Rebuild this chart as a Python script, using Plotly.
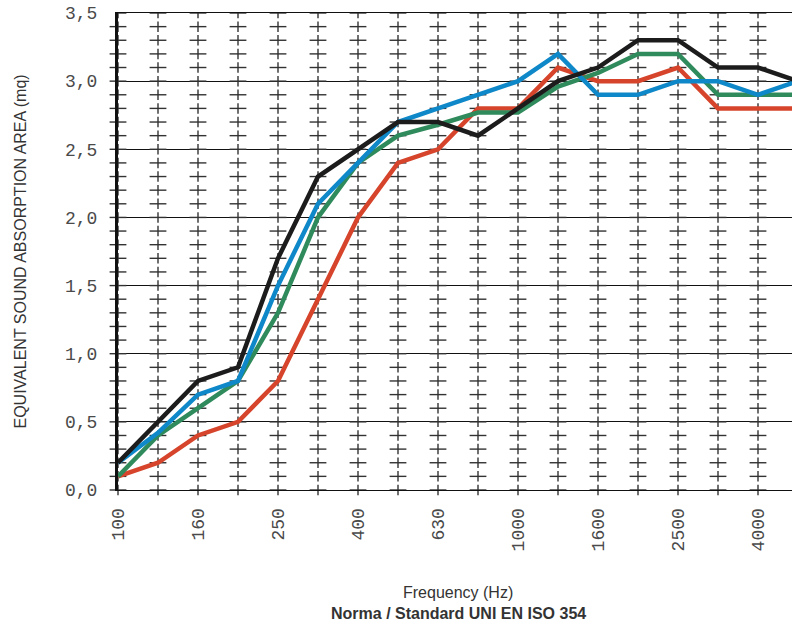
import plotly.graph_objects as go

frequencies = ["100", "125", "160", "200", "250", "315", "400", "500", "630",
               "800", "1000", "1250", "1600", "2000", "2500", "3150", "4000", "5000"]
tick_labels = ["100", "160", "250", "400", "630", "1000", "1600", "2500", "4000"]
y_ticks = [0.0, 0.5, 1.0, 1.5, 2.0, 2.5, 3.0, 3.5]

black_values = [0.2, 0.5, 0.8, 0.9, 1.7, 2.3, 2.5, 2.7, 2.7, 2.6, 2.8, 3.0, 3.1, 3.3, 3.3, 3.1, 3.1, 3.0]
blue_values = [0.2, 0.42, 0.7, 0.8, 1.5, 2.1, 2.4, 2.7, 2.8, 2.9, 3.0, 3.2, 2.9, 2.9, 3.0, 3.0, 2.9, 3.0]
green_values = [0.1, 0.4, 0.6, 0.8, 1.3, 2.0, 2.4, 2.6, 2.68, 2.77, 2.77, 2.96, 3.06, 3.2, 3.2, 2.9, 2.9, 2.9]
red_values = [0.1, 0.2, 0.4, 0.5, 0.8, 1.4, 2.0, 2.4, 2.5, 2.8, 2.8, 3.1, 3.0, 3.0, 3.1, 2.8, 2.8, 2.8]

fig = go.Figure()

# cross grid markers at each category and each 0.1 step
grid_steps = [round(k * 0.1, 1) for k in range(36)]
gx_in, gy_in, gx_top, gy_top = [], [], [], []
for f in frequencies:
    for s in grid_steps:
        if s >= 3.5:
            gx_top.append(f); gy_top.append(s)
        else:
            gx_in.append(f); gy_in.append(s)

for gx, gy, clip in [(gx_in, gy_in, False), (gx_top, gy_top, True)]:
    fig.add_trace(go.Scatter(x=gx, y=gy, mode="markers", cliponaxis=clip, hoverinfo="skip",
                             marker=dict(symbol="line-ew", size=12, line=dict(color="#333333", width=1.4))))
    fig.add_trace(go.Scatter(x=gx, y=gy, mode="markers", cliponaxis=clip, hoverinfo="skip",
                             marker=dict(symbol="line-ns", size=7.5, line=dict(color="#333333", width=1.4))))

line_series = [
    (red_values, "#d6442c"),
    (green_values, "#2f8a5c"),
    (blue_values, "#0e88c8"),
    (black_values, "#1c1c1c"),
]
for vals, col in line_series:
    fig.add_trace(go.Scatter(x=frequencies, y=vals, mode="lines",
                             line=dict(color=col, width=4.5)))

mono = "Liberation Mono, Courier New, monospace"
sans = "Liberation Sans, Arial, sans-serif"

fig.update_layout(
    width=792, height=629,
    margin=dict(l=118, r=0, t=13, b=139),
    paper_bgcolor="white", plot_bgcolor="white",
    showlegend=False,
    separators=",.",
    xaxis=dict(
        type="category", categoryorder="array", categoryarray=frequencies,
        range=[0, 16.85], automargin=False,
        tickmode="array", tickvals=tick_labels, ticktext=tick_labels,
        tickangle=-90, ticks="", ticklabelstandoff=10,
        tickfont=dict(family=mono, size=18, color="#4a4a4a"),
        showgrid=False, showline=True, mirror=True, linecolor="#111111", linewidth=1,
        zeroline=False,
    ),
    yaxis=dict(
        range=[0, 3.5], automargin=False, ticklabeloverflow="allow",
        tickmode="array", tickvals=y_ticks, tickformat=".1f",
        tickfont=dict(family=mono, size=18, color="#4a4a4a"),
        ticks="", ticklabelstandoff=14,
        showgrid=True, gridcolor="#111111", gridwidth=1,
        showline=True, linecolor="#111111", linewidth=3,
        zeroline=False,
    ),
    annotations=[
        dict(text="EQUIVALENT SOUND ABSORPTION AREA (mq)", xref="paper", yref="paper",
             x=(20 - 118) / 674, y=0.5, textangle=-90, showarrow=False,
             xanchor="center", yanchor="middle",
             font=dict(family=sans, size=16, color="#333333")),
        dict(text="Frequency (Hz)", xref="paper", yref="paper",
             x=(458 - 118) / 674, y=(490 - 593) / 477, showarrow=False,
             xanchor="center", yanchor="middle",
             font=dict(family=sans, size=16, color="#333333")),
        dict(text="<b>Norma / Standard UNI EN ISO 354</b>", xref="paper", yref="paper",
             x=(458 - 118) / 674, y=(490 - 613) / 477, showarrow=False,
             xanchor="center", yanchor="middle",
             font=dict(family=sans, size=16, color="#333333")),
    ],
)

fig.write_html("out.html", config={"displayModeBar": False},
               post_script="document.body.style.margin='0px';")
